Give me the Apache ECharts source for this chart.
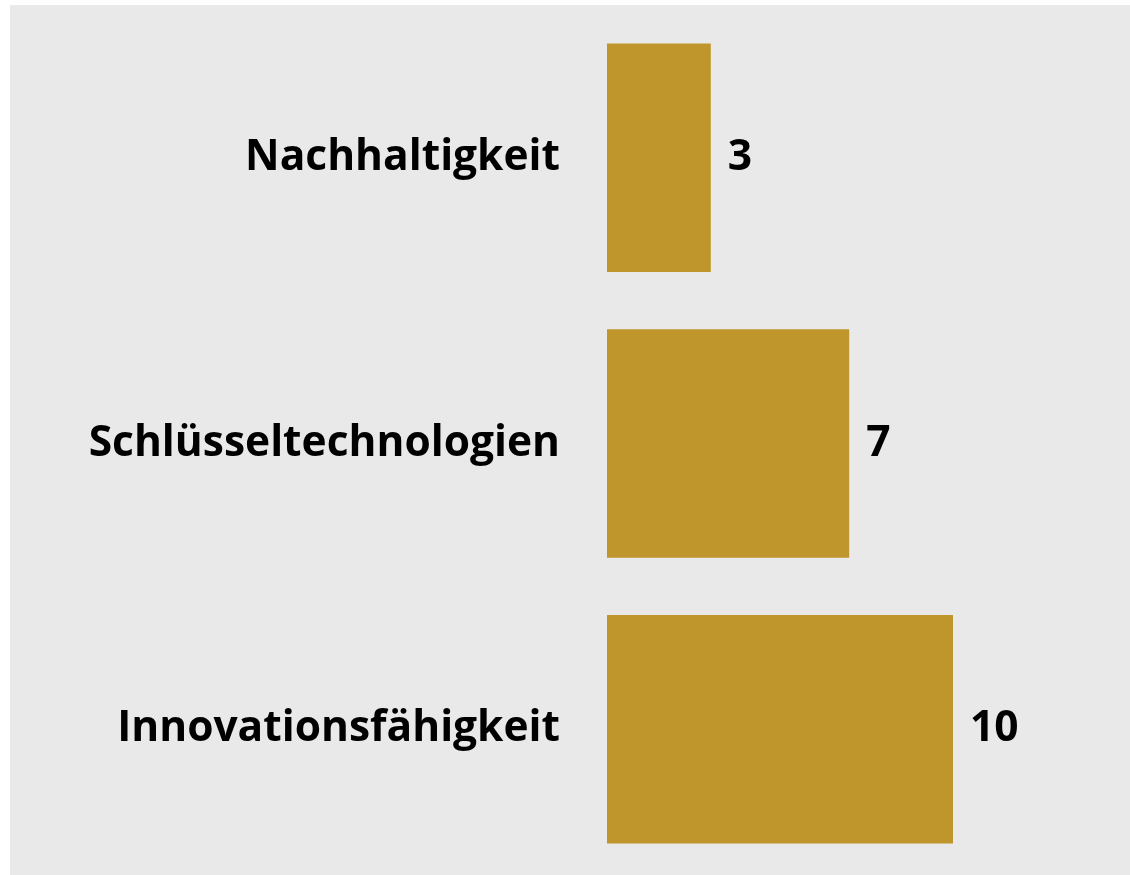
<!DOCTYPE html>
<html>
<head>
<meta charset="utf-8">
<script src="https://cdn.jsdelivr.net/npm/echarts@6/dist/echarts.min.js"></script>
<style>
html,body{margin:0;padding:0;background:#ffffff;}
#chart{width:1130px;height:875px;}
</style>
</head>
<body>
<div id="chart"></div>
<script>
const categories = ['Nachhaltigkeit', 'Schlüsseltechnologien', 'Innovationsfähigkeit'];
const values = [3, 7, 10];

const chart = echarts.init(document.getElementById('chart'));
chart.setOption({
  backgroundColor: '#ffffff',
  animation: false,
  graphic: [{
    type: 'rect', z: -10, silent: true,
    shape: { x: 10, y: 5, width: 1120, height: 870 },
    style: { fill: '#e9e9e9' }
  }],
  grid: { left: 607, right: 177, top: 15, bottom: 3 },
  xAxis: {
    type: 'value', min: 0, max: 10,
    show: false
  },
  yAxis: {
    type: 'category', data: categories, inverse: true,
    axisLine: { show: false }, axisTick: { show: false },
    axisLabel: {
      margin: 47, color: '#000000',
      fontFamily: 'Open Sans', fontWeight: 'bold', fontSize: 42.5
    }
  },
  series: [{
    type: 'bar', data: values, barCategoryGap: '20%',
    itemStyle: { color: '#bf962b' },
    label: {
      show: true, position: 'right', distance: 17,
      color: '#000000', fontFamily: 'Open Sans', fontWeight: 'bold', fontSize: 42.5
    }
  }]
});
</script>
</body>
</html>
